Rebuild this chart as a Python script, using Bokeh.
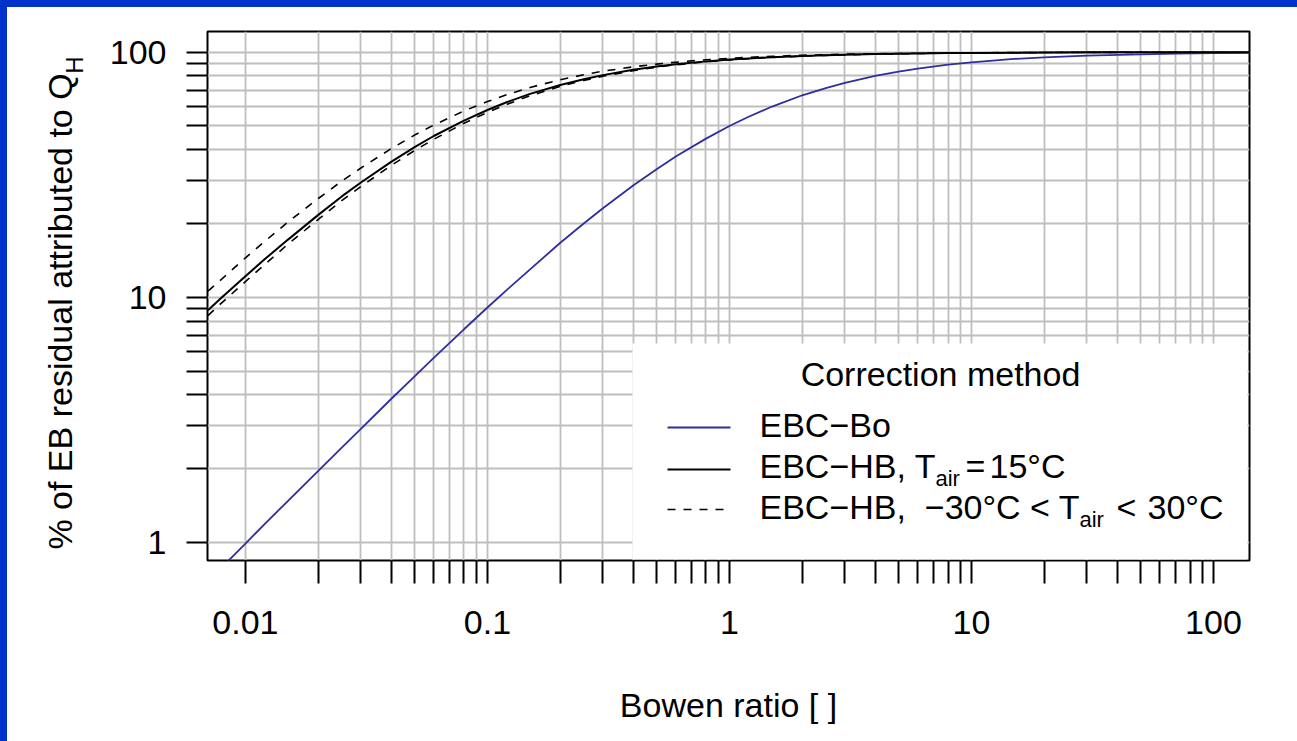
from math import log10
from bokeh.plotting import figure
from bokeh.models import (Range1d, FixedTicker, BoxAnnotation, Label, Arrow, LogAxis)
from bokeh.embed import file_html
from bokeh.resources import INLINE

# ---- data ----
bowen_ratio = [0.007, 0.008, 0.01, 0.012, 0.015, 0.02, 0.025, 0.03, 0.04, 0.05,
               0.06, 0.08, 0.1, 0.12, 0.15, 0.2, 0.25, 0.3, 0.4, 0.5,
               0.6, 0.8, 1, 1.2, 1.5, 2, 2.5, 3, 4, 5,
               6, 8, 10, 15, 20, 30, 50, 70, 100, 141]
# EBC-Bo
ebc_bo = [0.695, 0.794, 0.990, 1.19, 1.48, 1.96, 2.44, 2.91, 3.85, 4.76,
          5.66, 7.41, 9.09, 10.7, 13.0, 16.7, 20.0, 23.1, 28.6, 33.3,
          37.5, 44.4, 50.0, 54.5, 60.0, 66.7, 71.4, 75.0, 80.0, 83.3,
          85.7, 88.9, 90.9, 93.8, 95.2, 96.8, 98.0, 98.6, 99.0, 99.3]
# EBC-HB, Tair = 15 C
ebc_hb_15 = [8.86, 10.0, 12.2, 14.3, 17.2, 21.7, 25.8, 29.4, 35.7, 41.0,
             45.5, 52.6, 58.1, 62.5, 67.6, 73.5, 77.6, 80.6, 84.7, 87.4,
             89.3, 91.7, 93.3, 94.3, 95.4, 96.5, 97.2, 97.7, 98.2, 98.6,
             98.8, 99.1, 99.3, 99.5, 99.6, 99.8, 99.86, 99.9, 99.93, 99.95]
# EBC-HB, Tair = -30 C (upper dashed)
ebc_hb_cold = [10.6, 11.9, 14.5, 16.9, 20.3, 25.3, 29.8, 33.7, 40.4, 45.9,
               50.4, 57.6, 62.9, 67.0, 71.8, 77.2, 80.9, 83.6, 87.1, 89.4,
               91.0, 93.1, 94.4, 95.3, 96.2, 97.1, 97.7, 98.1, 98.5, 98.8,
               99.0, 99.3, 99.4, 99.6, 99.7, 99.8, 99.88, 99.92, 99.94, 99.96]
# EBC-HB, Tair = +30 C (lower dashed)
ebc_hb_warm = [8.43, 9.52, 11.6, 13.6, 16.5, 20.8, 24.8, 28.3, 34.5, 39.7,
               44.1, 51.3, 56.8, 61.2, 66.4, 72.5, 76.7, 79.8, 84.0, 86.8,
               88.8, 91.3, 92.9, 94.0, 95.2, 96.3, 97.0, 97.5, 98.1, 98.5,
               98.8, 99.1, 99.2, 99.5, 99.6, 99.75, 99.85, 99.89, 99.92, 99.95]

x_major = [0.01, 0.1, 1, 10, 100]
x_minor = [0.02, 0.03, 0.04, 0.05, 0.06, 0.07, 0.08, 0.09,
           0.2, 0.3, 0.4, 0.5, 0.6, 0.7, 0.8, 0.9,
           2, 3, 4, 5, 6, 7, 8, 9,
           20, 30, 40, 50, 60, 70, 80, 90]
y_major = [1, 10, 100]
y_minor = [2, 3, 4, 5, 6, 7, 8, 9, 20, 30, 40, 50, 60, 70, 80, 90]
x_tick_labels = {0.01: "0.01", 0.1: "0.1", 1: "1", 10: "10", 100: "100"}
y_tick_labels = {1: "1", 10: "10", 100: "100"}

x_title = "Bowen ratio [ ]"
y_title = "% of EB residual attributed to Q"
y_title_sub = "H"
legend_title = "Correction method"

# ---- layout (page pixel coordinates) ----
W, H = 1297, 741
BAR = 7                                # blue slide strip at top and left
FL, FR, FT, FB = 207, 1249, 31, 560    # frame edges on the page
FONT = "Liberation Sans"
BLUE = "#2E2EA0"
SLIDE = "#0033CC"
X0, X1 = 0.00697, 140.9
Y0, Y1 = 0.845, 121.4

p = figure(width=W, height=H, x_axis_type="log", y_axis_type="log",
           x_range=Range1d(X0, X1), y_range=Range1d(Y0, Y1),
           output_backend="svg", toolbar_location=None, title=None,
           min_border_left=FL, min_border_right=W - FR,
           min_border_top=FT, min_border_bottom=H - FB)
# transparent border area; the host element paints white plus the two blue strips
p.border_fill_color = None
p.background_fill_color = "white"
p.styles = {
    "position": "fixed",
    "top": "0px",
    "left": "0px",
    "background-color": "white",
    "background-image": f"linear-gradient({SLIDE}, {SLIDE}), linear-gradient({SLIDE}, {SLIDE})",
    "background-size": f"100% {BAR}px, {BAR}px 100%",
    "background-position": "0px 0px, 0px 0px",
    "background-repeat": "no-repeat",
}
p.outline_line_color = "black"
p.outline_line_width = 2

xt = FixedTicker(ticks=x_major, minor_ticks=x_minor)
yt = FixedTicker(ticks=y_major, minor_ticks=y_minor)
p.xaxis.ticker = xt
p.xgrid.ticker = xt
p.yaxis.ticker = yt
p.ygrid.ticker = yt

for g in (p.xgrid, p.ygrid):
    g.grid_line_color = "#bebebe"
    g.grid_line_width = 1.8
    g.minor_grid_line_color = "#bebebe"
    g.minor_grid_line_width = 1.8

for ax in (p.xaxis, p.yaxis):
    ax.axis_line_color = None
    ax.major_tick_in = 0
    ax.minor_tick_in = 0
    ax.major_tick_line_color = "black"
    ax.minor_tick_line_color = "black"
    ax.major_tick_line_width = 2
    ax.minor_tick_line_width = 2
    ax.major_label_text_font = FONT
    ax.major_label_text_font_size = "34px"
    ax.major_label_text_color = "black"

p.xaxis.major_tick_out = 23
p.xaxis.minor_tick_out = 23
p.yaxis.major_tick_out = 21
p.yaxis.minor_tick_out = 21
p.xaxis.major_label_overrides = x_tick_labels
p.yaxis.major_label_overrides = y_tick_labels
p.xaxis.major_label_standoff = 27
p.yaxis.major_label_standoff = 20
p.xaxis.axis_label = x_title
p.xaxis.axis_label_text_font = FONT
p.xaxis.axis_label_text_font_size = "34px"
p.xaxis.axis_label_text_font_style = "normal"
p.xaxis.axis_label_text_color = "black"
p.xaxis.axis_label_standoff = 49

# ---- curves ----
p.line(bowen_ratio, ebc_bo, line_color=BLUE, line_width=1.8)
p.line(bowen_ratio, ebc_hb_15, line_color="black", line_width=2)
p.line(bowen_ratio, ebc_hb_cold, line_color="black", line_width=1.6, line_dash="8 8")
p.line(bowen_ratio, ebc_hb_warm, line_color="black", line_width=1.6, line_dash="8 8")


# ---- helpers: page pixel -> frame-relative screen / data ----
def sx(px):
    return px - FL


def sy(py):
    return FB - py


def ydata(py):
    ly0, ly1 = log10(Y0), log10(Y1)
    return 10 ** (ly0 + (FB - py) / (FB - FT) * (ly1 - ly0))


# ---- y axis title with subscript, drawn as parallel tick labels of blank axes ----
def title_axis(text, py, size, standoff):
    pos = ydata(py)
    ax = LogAxis(ticker=FixedTicker(ticks=[pos], minor_ticks=[]),
                 major_label_overrides={pos: text},
                 major_label_orientation="parallel",
                 major_label_text_font=FONT, major_label_text_font_size=size,
                 major_label_text_color="black",
                 major_label_standoff=standoff,
                 axis_line_color=None, major_tick_line_color=None,
                 minor_tick_line_color=None, major_tick_in=0, major_tick_out=0,
                 minor_tick_in=0, minor_tick_out=0)
    p.add_layout(ax, "left")


title_axis(y_title_sub, 64.5, "24px", 19)
title_axis(y_title, 311, "34px", -21)

# ---- legend (white box, title, samples, labels) ----
p.add_layout(BoxAnnotation(left=sx(632), right=sx(1247), bottom=sy(559), top=sy(343),
                           left_units="screen", right_units="screen",
                           bottom_units="screen", top_units="screen",
                           fill_color="white", fill_alpha=1, line_color=None))


def txt(x, y, s, size=34, align="left"):
    # y is the wanted baseline on the page; Bokeh draws it ~0.38 em lower
    yb = y - 0.38 * size
    p.add_layout(Label(x=sx(x), y=sy(yb), x_units="screen", y_units="screen", text=s,
                       text_font=FONT, text_font_size=f"{size}px", text_align=align,
                       text_baseline="alphabetic", text_color="black"))


def sample(y, color, dash, width):
    p.add_layout(Arrow(end=None, x_start=sx(667), y_start=sy(y), x_end=sx(730), y_end=sy(y),
                       start_units="screen", end_units="screen",
                       line_color=color, line_width=width, line_dash=dash))


txt(940, 386, legend_title, align="center")
sample(427, BLUE, "solid", 1.8)
sample(469, "black", "solid", 2)
sample(509, "black", "8 8", 1.6)

txt(759, 437, "EBC\u2212Bo")
txt(759, 478, "EBC\u2212HB, T")
txt(935.0, 486, "air", size=22)
txt(965, 478, "=")
txt(989, 478, "15\u00b0C")
txt(759, 519, "EBC\u2212HB,")
txt(924.3, 519, "\u221230\u00b0C < T")
txt(1079.0, 527, "air", size=22)
txt(1116, 519, "<")
txt(1147, 519, "30\u00b0C")

open("out.html", "w").write(file_html(p, INLINE, title="Bowen ratio"))
